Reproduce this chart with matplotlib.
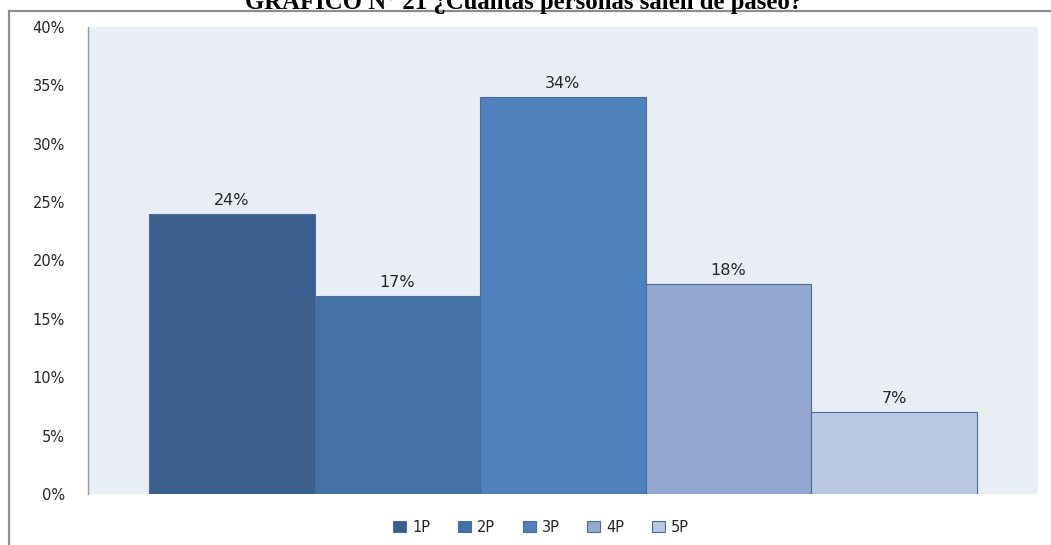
import matplotlib
matplotlib.use("Agg")
import matplotlib.pyplot as plt
from matplotlib.patches import Rectangle
from matplotlib.lines import Line2D

plt.rcParams["font.family"] = ["DejaVu Sans"]

categories = ["1P", "2P", "3P", "4P", "5P"]
values = [24, 17, 34, 18, 7]
colors = ["#3B5E8C", "#4471A7", "#4F81BD", "#95A8D0", "#BAC7E1"]
edge = "#4A6C9B"
yticks = [0, 5, 10, 15, 20, 25, 30, 35, 40]
title = "GRÁFICO N° 21 ¿Cuántas personas salen de paseo?"

W, H = 1051, 545
fig = plt.figure(figsize=(W / 100, H / 100), dpi=100)
fig.patch.set_facecolor("white")

# outer border (top and left visible)
fig.add_artist(Line2D([9 / W, 1.0], [1 - 10.5 / H, 1 - 10.5 / H], transform=fig.transFigure,
                      color="#8C8C8C", lw=1.6))
fig.add_artist(Line2D([9 / W, 9 / W], [1 - 10.5 / H, 0], transform=fig.transFigure,
                      color="#8C8C8C", lw=1.6))

ax = fig.add_axes([88 / W, 1 - 494 / H, (1038 - 88) / W, (494 - 27) / H])
ax.set_facecolor("#E9EDF5")

x = list(range(len(categories)))
bars = ax.bar(x, values, width=1.0, color=colors, edgecolor=edge, linewidth=0.8,
              label=categories)
for xi, v in zip(x, values):
    ax.text(xi, v + 0.5, f"{v}%", ha="center", va="bottom", fontsize=11.5,
            color="#262626", family="DejaVu Sans")

m = 61 / 165
ax.set_xlim(-0.5 - m, len(categories) - 0.5 + m)
ax.set_ylim(0, 40)
ax.set_yticks(yticks)
ax.set_yticklabels([f"{t}%" for t in yticks], fontsize=10.5, color="#262626",
                   family="DejaVu Sans")
ax.tick_params(axis="y", length=0, pad=16.5)
ax.set_xticks([])
for s in ["top", "right", "bottom"]:
    ax.spines[s].set_visible(False)
ax.spines["left"].set_color("#9A9A9A")
ax.spines["left"].set_linewidth(1.0)

handles = [Rectangle((0, 0), 1, 1, facecolor=c, edgecolor=edge, lw=0.8) for c in colors]
fig.legend(handles, categories, loc="center", bbox_to_anchor=(541 / W, 1 - 527 / H),
           ncol=5, frameon=False, prop={"family": "DejaVu Sans", "size": 10.5},
           handlelength=0.9, handleheight=0.75,
           handletextpad=0.4, columnspacing=1.9, labelcolor="#262626")

fig.text(524 / W, 1 - 9.5 / H, title, ha="center", va="baseline", fontsize=17.8,
         fontweight="bold", family="Liberation Serif", color="black")

fig.savefig("out.png", dpi=100)
